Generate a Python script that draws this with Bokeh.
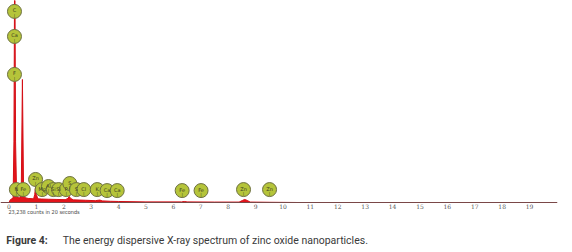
from bokeh.plotting import figure
from bokeh.layouts import column
from bokeh.models import Range1d, FixedTicker, ColumnDataSource
from bokeh.core.properties import value
from bokeh.embed import file_html
from bokeh.resources import INLINE

# Spectrum (energy keV, counts in arbitrary units; 1000 = top of plot)
energy = [0.00, 0.05, 0.15, 0.18, 0.21, 0.24, 0.28, 0.40, 0.45, 0.49, 0.53, 0.58,
          0.70, 0.90, 0.94, 0.97, 1.00, 1.05, 1.20, 1.45, 1.75, 2.05, 2.15, 2.20,
          2.25, 2.35, 2.80, 3.15, 3.25, 3.32, 3.40, 3.70, 4.00, 5.00, 6.30, 6.40,
          6.50, 7.50, 8.40, 8.52, 8.60, 8.70, 8.80, 9.50, 10.50]
counts = [0, 14, 22, 300, 1300, 300, 26, 22, 80, 609, 80, 24,
          20, 18, 40, 79, 40, 18, 17, 16, 15, 14, 20, 30,
          20, 13, 11, 9, 11, 12, 8, 6, 5, 3, 3, 5,
          3, 2, 2, 10, 15, 10, 2, 1, 0]

# Element markers
el_names = ["C", "Ca", "F", "N", "Fe", "Zn", "Mg", "Al", "Si", "Si", "P", "S", "S",
            "Cl", "K", "Ca", "Ca", "Fe", "Fe", "Zn", "Zn"]
el_energy = [0.20, 0.20, 0.20, 0.27, 0.52, 0.97, 1.21, 1.44, 1.62, 1.81, 2.09, 2.22,
             2.46, 2.73, 3.22, 3.58, 3.95, 6.32, 7.01, 8.56, 9.51]
el_level = [946, 822, 634, 64, 64, 114, 64, 79, 64, 64, 64, 94,
            64, 64, 64, 59, 59, 59, 59, 64, 64]

tick_values = list(range(0, 20))
count_note = "23,238 counts in 20 seconds"
caption_head = "Figure 4:"
caption_text = "The energy dispersive X-ray spectrum of zinc oxide nanoparticles."

p = figure(width=572, height=229, output_backend="svg", toolbar_location=None,
           x_range=Range1d(-0.31, 20.02), y_range=Range1d(-133.7, 1000),
           min_border_left=0, min_border_right=15, min_border_top=0,
           min_border_bottom=0)
p.outline_line_color = None
p.background_fill_color = "white"
p.xgrid.visible = False
p.ygrid.visible = False
p.yaxis.visible = False

xa = p.xaxis[0]
xa.fixed_location = 0
xa.ticker = FixedTicker(ticks=tick_values)
xa.axis_line_color = "#7a4848"
xa.axis_line_width = 1
xa.major_tick_line_color = None
xa.major_tick_out = 0
xa.major_tick_in = 0
xa.minor_tick_line_color = None
xa.minor_tick_out = 0
xa.minor_tick_in = 0
xa.major_label_text_font_size = "6px"
xa.major_label_text_color = "#555555"
xa.major_label_standoff = 2
xa.major_label_text_font = "DejaVu Serif"

# spectrum
p.varea(x=energy, y1=[0] * len(energy), y2=counts, fill_color="#e3141b")
p.line(x=energy, y=counts, line_color="#d40f16", line_width=1)

src = ColumnDataSource(dict(x=el_energy, y=el_level, t=el_names,
                            bar=["|"] * len(el_names)))
p.scatter(x="x", y="y", source=src, size=14, fill_color="#b5c43a",
          line_color="#6d7040", line_width=1)
p.text(x="x", y="y", text="t", source=src, text_font_size="5px",
       text_align="center", text_baseline="middle", y_offset=-1,
       text_color="#3a3a20", text_font=value("DejaVu Sans"))
p.text(x="x", y="y", text="bar", source=src, text_font_size="4px",
       text_align="center", text_baseline="middle", y_offset=4,
       text_color="#3a3a20")

p.text(x=[-0.02], y=[-49.5], text=[count_note], text_font_size="5.5px",
       text_color="#444444", text_baseline="middle",
       text_font=value("DejaVu Sans Condensed"))

# caption strip
c = figure(width=572, height=23, output_backend="svg", toolbar_location=None,
           x_range=Range1d(0, 572), y_range=Range1d(23, 0),
           x_axis_type=None, y_axis_type=None,
           min_border_left=0, min_border_right=0, min_border_top=0,
           min_border_bottom=0)
c.outline_line_color = None
c.xgrid.visible = False
c.ygrid.visible = False
c.text(x=[6], y=[11], text=[caption_head], text_font_size="10.5px",
       text_font_style="bold", text_color="#3a3a3a", text_baseline="middle",
       text_font=value("Roboto"))
c.text(x=[64], y=[11], text=[caption_text], text_font_size="10.5px",
       text_color="#3a3a3a", text_baseline="middle",
       text_font=value("Roboto"))

layout = column(p, c, spacing=0)
open("out.html", "w").write(file_html(layout, INLINE))
